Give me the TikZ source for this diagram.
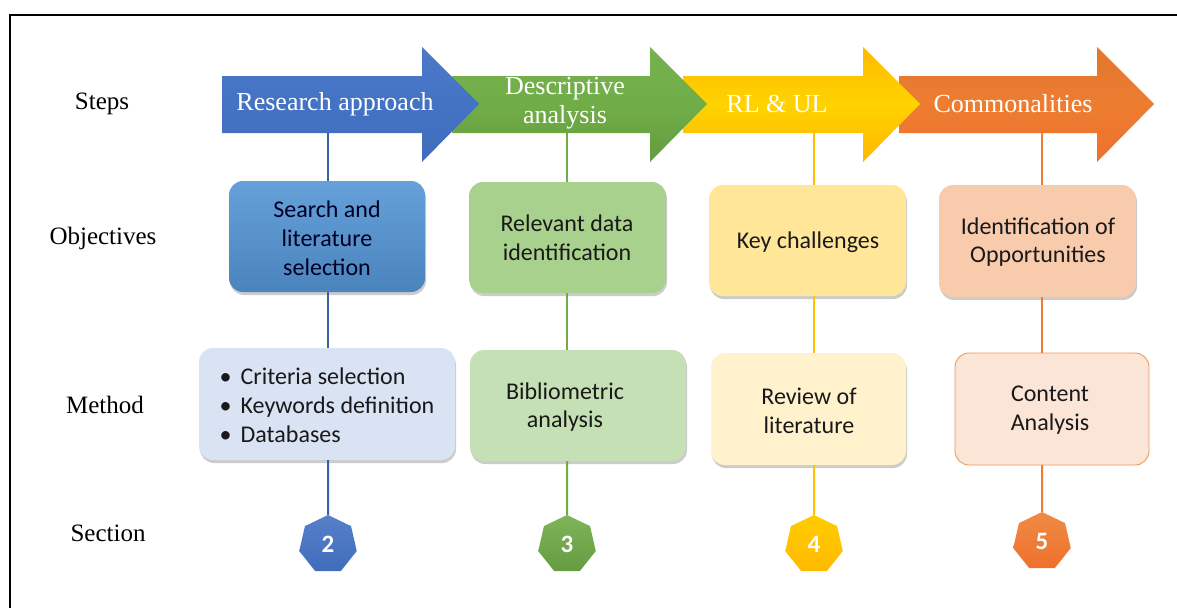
\documentclass[tikz,border=0pt]{standalone}
\usepackage{fontspec}
\setmainfont{Liberation Serif}
\setsansfont{Carlito}
\usetikzlibrary{shapes.geometric,shadows}
\definecolor{cblue}{HTML}{4472C4}
\definecolor{cgreen}{HTML}{70AD47}
\definecolor{cyellow}{HTML}{FFC000}
\definecolor{corange}{HTML}{ED7D31}
\definecolor{oblue}{HTML}{5596D6}
\definecolor{ogreen}{HTML}{A9D18E}
\definecolor{oyellow}{HTML}{FFE699}
\definecolor{oorange}{HTML}{F8CBAD}
\definecolor{mblue}{HTML}{DAE3F3}
\definecolor{mgreen}{HTML}{C5E0B4}
\definecolor{myellow}{HTML}{FFF2CC}
\definecolor{morange}{HTML}{FBE5D6}
\begin{document}
\begin{tikzpicture}[x=1pt,y=-1pt,
  rowlbl/.style={font=\fontsize{25}{29}\selectfont, anchor=center, inner sep=0pt},
  arrtxt/.style={text=white, font=\fontsize{26}{29}\selectfont, align=center, inner sep=0pt},
  boxtxt/.style={font=\sffamily\fontsize{24}{28.8}\selectfont, align=center, inner sep=0pt, text=black!90},
  card/.style={rounded corners=14pt, inner sep=0pt, drop shadow={opacity=0.4, shadow xshift=1pt, shadow yshift=-3pt}},
  hept/.style={regular polygon, regular polygon sides=7, minimum size=59pt, inner sep=0pt,
     text=white, font=\sffamily\bfseries\fontsize{25}{26}\selectfont},
  conn/.style={line width=2pt}
]
\useasboundingbox (0,0) rectangle (1177,608);
\fill[white] (0,0) rectangle (1177,608);
\draw[line width=1.4pt] (1177,15) -- (10,15) -- (10,608);

% row labels
\node[rowlbl] (lsteps) at (102,104) {Steps};
\node[rowlbl] (lobj) at (103,238) {Objectives};
\node[rowlbl] (lmeth) at (105,405) {Method};
\node[rowlbl] (lsec) at (108,533) {Section};

% arrows (drawn right to left so each head lies over the next body)
\shade[top color=corange!95!black, bottom color=corange!90!red, middle color=corange]
  (899,76) -- (1097,76) -- (1097,47) -- (1154,104) -- (1097,162) -- (1097,133) -- (899,133) -- cycle;
\shade[top color=cyellow!90!orange, bottom color=cyellow!85!orange, middle color=cyellow!70!yellow]
  (683,76) -- (863,76) -- (863,47) -- (920,104) -- (863,162) -- (863,133) -- (683,133) -- cycle;
\shade[top color=cgreen!95!white, bottom color=cgreen!90!black, middle color=cgreen]
  (452,76) -- (650,76) -- (650,47) -- (707,104) -- (650,162) -- (650,133) -- (452,133) -- cycle;
\shade[top color=cblue!95!white, bottom color=cblue!95!black, middle color=cblue]
  (222,76) -- (422,76) -- (422,47) -- (479,104) -- (422,162) -- (422,133) -- (222,133) -- cycle;

\node[arrtxt] (t1) at (335,104) {Research approach};
\node[arrtxt] (t2) at (565,103) {Descriptive\\analysis};
\node[arrtxt] (t3) at (777,104) {RL \& UL};
\node[arrtxt] (t4) at (1013,104) {Commonalities};

\coordinate (a1) at (328,133);
\coordinate (a2) at (567,133);
\coordinate (a3) at (814,133);
\coordinate (a4) at (1042,133);

% connectors (behind the boxes)
\draw[conn, cblue!85!black] (a1) -- (328,515);
\draw[conn, cgreen] (a2) -- (567,515);
\draw[conn, cyellow] (a3) -- (814,515);
\draw[conn, corange] (a4) -- (1042,512);

% objective boxes
\node[card, minimum width=196pt, minimum height=111pt, top color=oblue!90!white, bottom color=oblue!88!black]
  (o1) at (327,236.5) {};
\node[card, minimum width=197pt, minimum height=111pt, fill=ogreen] (o2) at (567.5,237.5) {};
\node[card, minimum width=197pt, minimum height=111pt, fill=oyellow] (o3) at (807.5,240.5) {};
\node[card, minimum width=197pt, minimum height=112pt, fill=oorange] (o4) at (1037.5,241) {};
\node[boxtxt, text=black!85!blue] (ot1) at (327,238) {Search and\\literature\\selection};
\node[boxtxt] (ot2) at (567,238) {Relevant data\\identification};
\node[boxtxt] (ot3) at (808,242) {Key challenges};
\node[boxtxt] (ot4) at (1038,242) {Identification of\\Opportunities};

% method boxes
\node[card, minimum width=256pt, minimum height=112pt, fill=mblue] (m1) at (327,404) {};
\node[card, minimum width=216pt, minimum height=111pt, fill=mgreen] (m2) at (578,405.5) {};
\node[card, minimum width=195pt, minimum height=112pt, fill=myellow] (m3) at (808.5,409) {};
\node[rounded corners=14pt, inner sep=0pt, minimum width=194pt, minimum height=112pt, fill=morange,
  draw=corange!80, line width=0.9pt] (m4) at (1052,409) {};
\node[boxtxt, align=left] (mt1) at (327,405)
  {\textbullet\hspace{9pt}Criteria selection\\\textbullet\hspace{9pt}Keywords definition\\\textbullet\hspace{9pt}Databases};
\node[boxtxt] (mt2) at (565,407) {Bibliometric\\analysis};
\node[boxtxt] (mt3) at (809,411) {Review of\\literature};
\node[boxtxt] (mt4) at (1050,410) {Content\\Analysis};

% section heptagons
\node[hept, top color=cblue!90!white, bottom color=cblue!95!black] (s1) at (328,544.5) {2};
\node[hept, top color=cgreen!90!white, bottom color=cgreen!90!black] (s2) at (567,544.5) {3};
\node[hept, top color=cyellow!80!yellow, bottom color=cyellow!90!orange] (s3) at (814,544.5) {4};
\node[hept, top color=corange!90!white, bottom color=corange!90!red] (s4) at (1042,541.5) {5};

% connector endpoints tied to named nodes
\draw[conn, cblue!85!black] (a1) -- (o1.north -| a1);
\draw[conn, cblue!85!black] (o1.south -| a1) -- (m1.north -| a1);
\draw[conn, cblue!85!black] (m1.south -| a1) -- (s1.north);
\draw[conn, cgreen] (a2) -- (o2.north -| a2);
\draw[conn, cgreen] (o2.south -| a2) -- (m2.north -| a2);
\draw[conn, cgreen] (m2.south -| a2) -- (s2.north);
\draw[conn, cyellow] (a3) -- (o3.north -| a3);
\draw[conn, cyellow] (o3.south -| a3) -- (m3.north -| a3);
\draw[conn, cyellow] (m3.south -| a3) -- (s3.north);
\draw[conn, corange] (a4) -- (o4.north -| a4);
\draw[conn, corange] (o4.south -| a4) -- (m4.north -| a4);
\draw[conn, corange] (m4.south -| a4) -- (s4.north);
\end{tikzpicture}
\end{document}
